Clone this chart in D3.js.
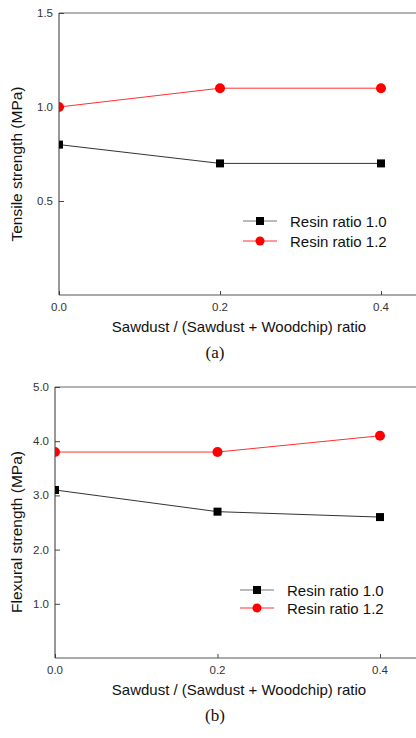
<!DOCTYPE html>
<html>
<head>
<meta charset="utf-8">
<script src="https://cdn.jsdelivr.net/npm/d3@7"></script>
<style>
    body { margin: 0; background: #fff; }
    svg text { font-family: "Liberation Sans", Arial, sans-serif; }
</style>
</head>
<body>
<svg id="chart" width="416" height="738"></svg>
<script>
// shared x values
var ratios = [0.0, 0.2, 0.4];
var xTicks = [0.0, 0.2, 0.4];
var seriesNames = ["Resin ratio 1.0", "Resin ratio 1.2"];

// (a) tensile
var tensile10 = [0.8, 0.7, 0.7];
var tensile12 = [1.0, 1.1, 1.1];
var tensileTicks = [0.5, 1.0, 1.5];

// (b) flexural
var flexural10 = [3.1, 2.7, 2.6];
var flexural12 = [3.8, 3.8, 4.1];
var flexuralTicks = [1.0, 2.0, 3.0, 4.0, 5.0];

var svg = d3.select("#chart");

function drawPanel(opt) {
    var g = svg.append("g");

    var x = d3.scaleLinear().domain([0, 0.4]).range([opt.left, opt.x04]);
    var y = d3.scaleLinear().domain([0, opt.yMax]).range([opt.bottom, opt.top]);

    // clip marks at the left axis
    var clipId = "clip" + opt.id;
    svg.append("clipPath").attr("id", clipId)
        .append("rect")
        .attr("x", opt.left).attr("y", opt.top - 10)
        .attr("width", 416 - opt.left).attr("height", opt.bottom - opt.top + 10);

    // top frame line
    g.append("line")
        .attr("x1", opt.left).attr("x2", 416)
        .attr("y1", opt.top).attr("y2", opt.top)
        .attr("stroke", "#9a9a9a").attr("stroke-width", 1.5);

    // x axis
    var xAxis = g.append("g")
        .attr("transform", "translate(0," + opt.bottom + ")")
        .call(d3.axisTop(x).tickValues(xTicks).tickSize(4).tickFormat(""));
    xAxis.select(".domain").remove();
    xAxis.selectAll("line").attr("stroke", "#444");
    g.append("line")
        .attr("x1", opt.left).attr("x2", 416)
        .attr("y1", opt.bottom).attr("y2", opt.bottom)
        .attr("stroke", "#555").attr("stroke-width", 1);
    g.selectAll(".xlab").data(xTicks).enter().append("text")
        .attr("x", d => x(d))
        .attr("y", opt.bottom + 16)
        .attr("text-anchor", "middle")
        .attr("font-size", 11.5)
        .attr("fill", "#333")
        .text(d => d3.format(".1f")(d));

    // y axis
    var yAxis = g.append("g")
        .attr("transform", "translate(" + opt.left + ",0)")
        .call(d3.axisRight(y).tickValues(opt.yTicks).tickSize(5).tickFormat(""));
    yAxis.select(".domain").remove();
    yAxis.selectAll("line").attr("stroke", "#444");
    g.append("line")
        .attr("x1", opt.left).attr("x2", opt.left)
        .attr("y1", opt.top).attr("y2", opt.bottom)
        .attr("stroke", "#333").attr("stroke-width", 1);
    g.selectAll(".ylab").data(opt.yTicks).enter().append("text")
        .attr("x", opt.left - 6)
        .attr("y", d => y(d) + 4)
        .attr("text-anchor", "end")
        .attr("font-size", 11.5)
        .attr("fill", "#333")
        .text(d => d3.format(".1f")(d));

    // axis titles
    g.append("text")
        .attr("transform", "translate(" + 22 + "," + opt.yTitleY + ") rotate(-90)")
        .attr("text-anchor", "middle")
        .attr("font-size", 15.5)
        .attr("fill", "#111")
        .text(opt.yTitle);
    g.append("text")
        .attr("x", 239).attr("y", opt.bottom + 37)
        .attr("text-anchor", "middle")
        .attr("font-size", 15)
        .attr("fill", "#111")
        .text("Sawdust / (Sawdust + Woodchip) ratio");
    g.append("text")
        .attr("x", 215).attr("y", opt.bottom + 63)
        .attr("text-anchor", "middle")
        .attr("font-size", 17)
        .attr("fill", "#111")
        .style("font-family", "'Liberation Serif', 'Times New Roman', serif")
        .text(opt.caption);

    // series
    var series = [
        { name: seriesNames[0], values: opt.s10, color: "#000", line: "#333", shape: "square" },
        { name: seriesNames[1], values: opt.s12, color: "#ff0000", line: "#ff3030", shape: "circle" }
    ];
    var line = d3.line().x((d, i) => x(ratios[i])).y(d => y(d));
    var marks = g.append("g").attr("clip-path", "url(#" + clipId + ")");

    series.forEach(function (s) {
        marks.append("path")
            .datum(s.values)
            .attr("d", line)
            .attr("fill", "none")
            .attr("stroke", s.line)
            .attr("stroke-width", 1);
        if (s.shape === "square") {
            marks.selectAll(".sq").data(s.values).enter().append("rect")
                .attr("x", (d, i) => x(ratios[i]) - 4)
                .attr("y", d => y(d) - 4)
                .attr("width", 8).attr("height", 8)
                .attr("fill", s.color);
        } else {
            marks.selectAll(".ci").data(s.values).enter().append("circle")
                .attr("cx", (d, i) => x(ratios[i]))
                .attr("cy", d => y(d))
                .attr("r", 5)
                .attr("fill", s.color);
        }
    });

    // legend
    var leg = g.append("g");
    series.forEach(function (s, i) {
        var ly = opt.legY + i * opt.legGap;
        leg.append("line")
            .attr("x1", opt.legX).attr("x2", opt.legX + 34)
            .attr("y1", ly).attr("y2", ly)
            .attr("stroke", i === 0 ? "#777" : "#ff3030").attr("stroke-width", 1);
        if (s.shape === "square") {
            leg.append("rect")
                .attr("x", opt.legX + 17 - 4).attr("y", ly - 4)
                .attr("width", 8).attr("height", 8)
                .attr("fill", s.color);
        } else {
            leg.append("circle")
                .attr("cx", opt.legX + 17).attr("cy", ly)
                .attr("r", 4.5).attr("fill", s.color);
        }
        leg.append("text")
            .attr("x", opt.legX + 47).attr("y", ly + 5.5)
            .attr("font-size", 15)
            .attr("fill", "#111")
            .text(s.name);
    });
}

drawPanel({
    id: "a", left: 59, x04: 381, top: 13, bottom: 295, yMax: 1.5,
    yTicks: tensileTicks, s10: tensile10, s12: tensile12,
    yTitle: "Tensile strength (MPa)", yTitleY: 164, caption: "(a)",
    legX: 243, legY: 221, legGap: 20
});

drawPanel({
    id: "b", left: 55, x04: 380, top: 387, bottom: 658, yMax: 5.0,
    yTicks: flexuralTicks, s10: flexural10, s12: flexural12,
    yTitle: "Flexural strength (MPa)", yTitleY: 532, caption: "(b)",
    legX: 240, legY: 590, legGap: 18
});
</script>
</body>
</html>
